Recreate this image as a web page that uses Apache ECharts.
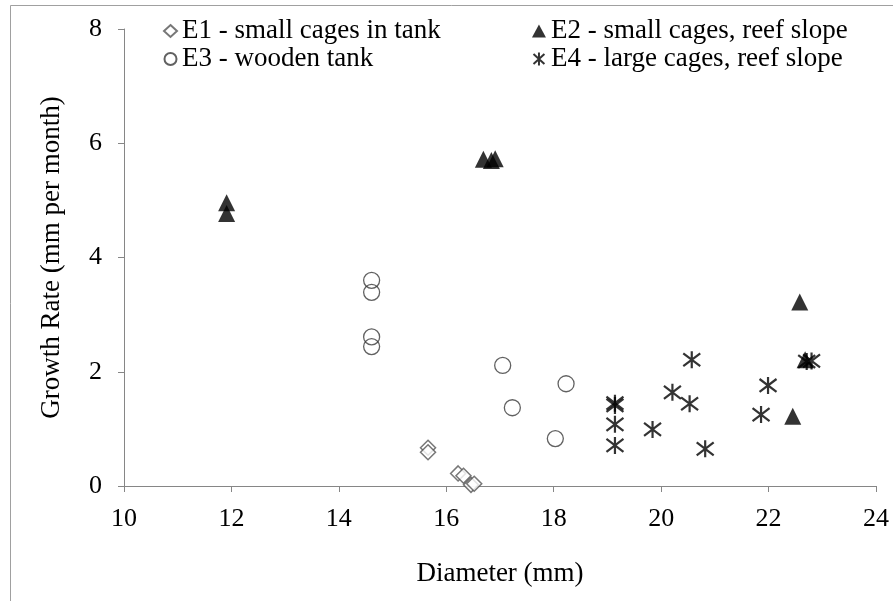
<!DOCTYPE html>
<html>
<head>
<meta charset="utf-8">
<script src="https://cdn.jsdelivr.net/npm/echarts@6/dist/echarts.min.js"></script>
<style>
  html, body { margin: 0; padding: 0; background: #fff; }
  #chart { width: 893px; height: 601px; }
</style>
</head>
<body>
<div id="chart"></div>
<script>
// Diameter (mm) / growth rate (mm per month) pairs for each experiment
const e1Name = 'E1 - small cages in tank';
const e2Name = 'E2 - small cages, reef slope';
const e3Name = 'E3 - wooden tank';
const e4Name = 'E4 - large cages, reef slope';

const e1Data = [[15.66, 0.67], [15.66, 0.59], [16.22, 0.22], [16.32, 0.18], [16.46, 0.02], [16.52, 0.04]];
const e2Data = [[11.91, 4.96], [11.91, 4.77], [16.69, 5.72], [16.91, 5.73], [16.84, 5.70], [22.58, 3.22], [22.68, 2.21], [22.45, 1.22]];
const e3Data = [[14.61, 3.60], [14.61, 3.39], [14.61, 2.61], [14.61, 2.44], [17.05, 2.11], [17.23, 1.37], [18.23, 1.79], [18.03, 0.83]];
const e4Data = [[19.14, 1.45], [19.14, 1.41], [19.14, 1.08], [19.14, 0.71], [19.84, 0.99], [20.21, 1.64], [20.57, 2.21], [20.53, 1.44],
                [20.82, 0.65], [21.99, 1.76], [21.86, 1.25], [22.71, 2.18], [22.80, 2.19]];

const xTicks = { min: 10, max: 24, interval: 2 };
const yTicks = { min: 0, max: 8, interval: 2 };

const serif = '"Liberation Serif", "DejaVu Serif", serif';
const axisGray = '#868686';
// asterisk marker: a vertical stroke crossed by an X
const asterisk = 'path://M5,0L5,10M0.8,1.2L9.2,8.8M0.8,8.8L9.2,1.2';

const legendText = { fontFamily: serif, fontSize: 27, lineHeight: 28, color: '#000' };

const chart = echarts.init(document.getElementById('chart'));
chart.setOption({
  animation: false,
  backgroundColor: '#fff',
  textStyle: { fontFamily: serif },
  graphic: [
    { type: 'polyline', shape: { points: [[10.5, 601], [10.5, 5.5], [893, 5.5]] },
      style: { stroke: '#a0a0a0', lineWidth: 1, fill: 'none' }, silent: true }
  ],
  grid: { left: 124, right: 17, top: 29, bottom: 115 },
  legend: [
    {
      data: [e1Name, e3Name], orient: 'vertical', left: 163, top: 17,
      itemWidth: 13, itemHeight: 12, itemGap: 0, padding: 0,
      textStyle: legendText
    },
    {
      data: [e2Name, e4Name], orient: 'vertical', left: 531, top: 17,
      itemWidth: 14, itemHeight: 13, itemGap: 0, padding: 0,
      textStyle: legendText
    }
  ],
  xAxis: {
    type: 'value', min: xTicks.min, max: xTicks.max, interval: xTicks.interval,
    name: 'Diameter (mm)', nameLocation: 'middle', nameGap: 74,
    nameTextStyle: { fontFamily: serif, fontSize: 27, color: '#000' },
    axisLine: { lineStyle: { color: axisGray, width: 1 } },
    axisTick: { show: true, length: 6, lineStyle: { color: axisGray } },
    axisLabel: { fontFamily: serif, fontSize: 26, color: '#000', margin: 20 },
    splitLine: { show: false }
  },
  yAxis: {
    type: 'value', min: yTicks.min, max: yTicks.max, interval: yTicks.interval,
    name: 'Growth Rate (mm per month)', nameLocation: 'middle', nameGap: 59,
    nameTextStyle: { fontFamily: serif, fontSize: 27, color: '#000' },
    axisLine: { show: true, lineStyle: { color: axisGray, width: 1 } },
    axisTick: { show: true, length: 6, lineStyle: { color: axisGray } },
    axisLabel: { fontFamily: serif, fontSize: 26, color: '#000', margin: 22 },
    splitLine: { show: false }
  },
  series: [
    {
      name: e1Name, type: 'scatter', data: e1Data, symbol: 'diamond', symbolSize: 15,
      itemStyle: { color: '#fff', borderColor: '#555', borderWidth: 1.5 }
    },
    {
      name: e2Name, type: 'scatter', data: e2Data, symbol: 'triangle', symbolSize: 17,
      itemStyle: { color: '#000', borderColor: '#000', borderWidth: 0 }
    },
    {
      name: e3Name, type: 'scatter', data: e3Data, symbol: 'circle', symbolSize: 16,
      itemStyle: { color: 'rgba(255,255,255,0)', borderColor: '#3a3a3a', borderWidth: 1.3 }
    },
    {
      name: e4Name, type: 'scatter', data: e4Data, symbol: asterisk, symbolSize: 17,
      itemStyle: { color: 'none', borderColor: '#000', borderWidth: 2.2 }
    }
  ]
});
</script>
</body>
</html>
